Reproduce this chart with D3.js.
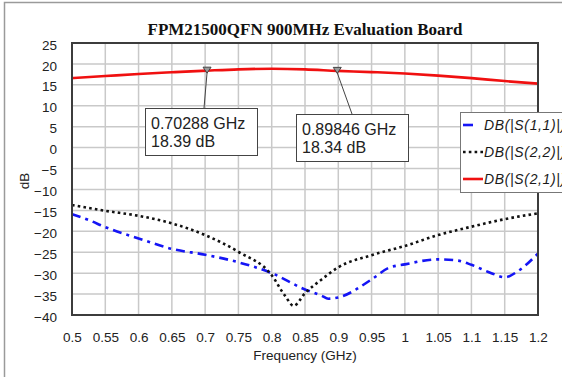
<!DOCTYPE html>
<html>
<head>
<meta charset="utf-8">
<script src="https://cdn.jsdelivr.net/npm/d3@7"></script>
<style>
  html, body { margin: 0; padding: 0; background: #fff; }
  svg { display: block; }
  text { font-family: Arial, "Liberation Sans", sans-serif; fill: #222; }
</style>
</head>
<body>
<svg id="chart" width="562" height="377"></svg>
<script>
// S-parameter sweep of the evaluation board (frequency in GHz, magnitude in dB)
const xTicks = [0.5, 0.55, 0.6, 0.65, 0.7, 0.75, 0.8, 0.85, 0.9, 0.95, 1, 1.05, 1.1, 1.15, 1.2];
const yTicks = [25, 20, 15, 10, 5, 0, -5, -10, -15, -20, -25, -30, -35, -40];

const freqS11 = [0.5, 0.525, 0.55, 0.6, 0.65, 0.7, 0.75, 0.8, 0.85, 0.875, 0.885, 0.9, 0.95, 0.975, 1.0, 1.05, 1.08, 1.1, 1.13, 1.15, 1.17, 1.2];
const s11 = [-15.9, -17.3, -19.0, -21.7, -24.2, -25.6, -27.4, -30.0, -33.9, -35.4, -36.1, -35.8, -31.5, -28.8, -27.9, -26.7, -27.0, -28.0, -30.0, -31.0, -29.5, -25.3];

const freqS22 = [0.5, 0.55, 0.6, 0.65, 0.7, 0.75, 0.8, 0.82, 0.833, 0.85, 0.875, 0.9, 0.95, 1.0, 1.05, 1.1, 1.15, 1.2];
const s22 = [-13.7, -15.1, -16.3, -18.1, -20.9, -24.9, -30.5, -35.4, -37.8, -34.8, -31.5, -28.6, -25.7, -23.5, -20.9, -18.9, -17.1, -15.7];

const freqS21 = [0.5, 0.55, 0.6, 0.65, 0.70288, 0.75, 0.8, 0.85, 0.89846, 0.95, 1.0, 1.05, 1.1, 1.15, 1.2];
const s21 = [16.6, 17.1, 17.6, 18.0, 18.39, 18.7, 18.85, 18.7, 18.34, 18.05, 17.7, 17.2, 16.6, 15.9, 15.3];

const markerFreqs = [0.70288, 0.89846];
const markerValues = [18.39, 18.34];

const seriesNames = ["DB(|S(1,1)|)", "DB(|S(2,2)|)", "DB(|S(2,1)|)"];
const seriesColors = ["#1515f5", "#111111", "#f01010"];

const svg = d3.select("#chart");
const plotL = 72, plotR = 538, plotT = 43, plotB = 315;

const x = d3.scaleLinear().domain([0.5, 1.2]).range([plotL, plotR]);
const y = d3.scaleLinear().domain([-40, 25]).range([plotB, plotT]);

// outer page border (top and left edges)
svg.append("path")
  .attr("d", "M4.5,377V2.5H562")
  .attr("fill", "none").attr("stroke", "#9a9a9a").attr("stroke-width", 1.5);

// title
svg.append("text")
  .attr("x", (plotL + plotR) / 2).attr("y", 35)
  .attr("text-anchor", "middle")
  .style("font-family", "'Liberation Serif','Times New Roman',serif")
  .style("font-weight", "bold").style("font-size", "17px")
  .style("fill", "#111")
  .text("FPM21500QFN 900MHz Evaluation Board");

// grid
const grid = svg.append("g");
grid.selectAll("line.v").data(xTicks).join("line")
  .attr("x1", d => x(d)).attr("x2", d => x(d))
  .attr("y1", plotT).attr("y2", plotB)
  .attr("stroke", "#c9c9c9").attr("stroke-width", 1.5);
grid.selectAll("line.h").data(yTicks).join("line")
  .attr("x1", plotL).attr("x2", plotR)
  .attr("y1", d => y(d)).attr("y2", d => y(d))
  .attr("stroke", "#c9c9c9").attr("stroke-width", 1.5);

// axes (labels only, ticks hidden)
const xAxis = d3.axisBottom(x).tickValues(xTicks).tickSize(0).tickPadding(0)
  .tickFormat(d => String(+d.toFixed(2)));
const gx = svg.append("g").attr("transform", `translate(0,${plotB + 22})`).call(xAxis);
gx.select(".domain").remove();
gx.selectAll("text").style("font-size", "13.5px").style("fill", "#222")
  .attr("dy", "0.35em").attr("y", 0);

const yAxis = d3.axisLeft(y).tickValues(yTicks).tickSize(0).tickPadding(0);
const gy = svg.append("g").attr("transform", `translate(${plotL - 15},0)`).call(yAxis);
gy.select(".domain").remove();
gy.selectAll("text").style("font-size", "13.5px").style("fill", "#222")
  .attr("dy", "0.45em");

svg.append("text")
  .attr("transform", "translate(29,181) rotate(-90)")
  .attr("text-anchor", "middle")
  .style("font-size", "13.5px")
  .text("dB");

svg.append("text")
  .attr("x", (plotL + plotR) / 2).attr("y", 360)
  .attr("text-anchor", "middle")
  .style("font-size", "13.5px")
  .text("Frequency (GHz)");

// traces
const line = d3.line().x(d => x(d[0])).y(d => y(d[1])).curve(d3.curveMonotoneX);
const plot = svg.append("g");

plot.append("path")
  .attr("d", line(d3.zip(freqS11, s11)))
  .attr("fill", "none").attr("stroke", seriesColors[0]).attr("stroke-width", 2.6)
  .attr("stroke-dasharray", "9,5,3,5");

plot.append("path")
  .attr("d", line(d3.zip(freqS22, s22)))
  .attr("fill", "none").attr("stroke", seriesColors[1]).attr("stroke-width", 2.6)
  .attr("stroke-dasharray", "2.6,3.2");

plot.append("path")
  .attr("d", line(d3.zip(freqS21, s21)))
  .attr("fill", "none").attr("stroke", seriesColors[2]).attr("stroke-width", 2.6);

// plot frame
svg.append("rect")
  .attr("x", plotL).attr("y", plotT)
  .attr("width", plotR - plotL).attr("height", plotB - plotT)
  .attr("fill", "none").attr("stroke", "#3c3c3c").attr("stroke-width", 2);

// marker callouts
const callouts = [
  { bx: 145, by: 108, lx: 204 },
  { bx: 296, by: 114, lx: 352 }
];
const boxW = 112, boxH = 47;
markerFreqs.forEach((f, i) => {
  const px = x(f), py = y(markerValues[i]);
  const c = callouts[i];
  const g = svg.append("g");
  g.append("line")
    .attr("x1", px).attr("y1", py + 2)
    .attr("x2", c.lx).attr("y2", c.by)
    .attr("stroke", "#444").attr("stroke-width", 1);
  g.append("path")
    .attr("d", `M${px - 4},${py - 3.5}H${px + 4}L${px},${py + 2.5}Z`)
    .attr("fill", "#9a9a9a").attr("stroke", "#444").attr("stroke-width", 1);
  g.append("rect")
    .attr("x", c.bx + 0.5).attr("y", c.by + 0.5)
    .attr("width", boxW).attr("height", boxH)
    .attr("fill", "#fff").attr("stroke", "#444").attr("stroke-width", 1);
  g.append("text")
    .attr("x", c.bx + 6).attr("y", c.by + 21)
    .style("font-size", "16px").style("fill", "#222")
    .text(`${f.toFixed(5)} GHz`);
  g.append("text")
    .attr("x", c.bx + 6).attr("y", c.by + 39)
    .style("font-size", "16px").style("fill", "#222")
    .text(`${markerValues[i].toFixed(2)} dB`);
});

// legend
const lg = svg.append("g");
lg.append("rect")
  .attr("x", 460.5).attr("y", 112.5).attr("width", 130).attr("height", 80)
  .attr("fill", "#fff").attr("stroke", "#777").attr("stroke-width", 1);
const legendY = [125, 152, 179];
const legendLen = [10, 20, 20];
const legendDash = [null, "2.6,3.2", null];
seriesNames.forEach((name, i) => {
  lg.append("line")
    .attr("x1", 463).attr("x2", 463 + legendLen[i])
    .attr("y1", legendY[i]).attr("y2", legendY[i])
    .attr("stroke", seriesColors[i]).attr("stroke-width", 2.6)
    .attr("stroke-dasharray", legendDash[i]);
  lg.append("text")
    .attr("x", 484).attr("y", legendY[i]).attr("dy", "0.36em")
    .style("font-size", "14px").style("font-style", "italic")
    .style("letter-spacing", "0.65px").style("fill", "#1a1a1a")
    .text(name);
});
</script>
</body>
</html>
